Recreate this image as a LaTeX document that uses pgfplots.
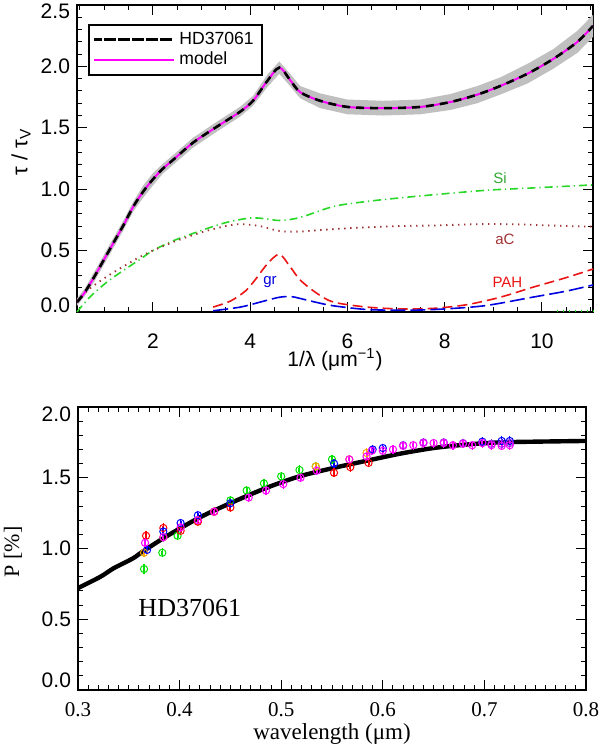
\documentclass[border=0pt]{standalone}
\usepackage{fontspec}
\setmainfont{Liberation Sans}
\newfontfamily\serif{Liberation Serif}
\usepackage{pgfplots}
\usepackage{pgfplotstable}
\pgfplotsset{compat=1.18}
\definecolor{siGreen}{RGB}{40,215,40}
\definecolor{siLab}{RGB}{50,165,50}
\definecolor{acBrown}{RGB}{160,50,50}
\definecolor{pahRed}{RGB}{235,20,20}
\definecolor{grBlue}{RGB}{0,0,225}
\definecolor{bandGray}{RGB}{192,192,192}
\definecolor{ptGreen}{RGB}{0,225,0}
\definecolor{ptRed}{RGB}{255,0,0}
\definecolor{ptBlue}{RGB}{0,0,255}
\definecolor{ptMag}{RGB}{255,0,255}
\definecolor{ptOrange}{RGB}{255,165,0}
\definecolor{ptPurple}{RGB}{150,40,240}

\pgfplotstableread{
x y
0.44 0.08
0.60 0.16
0.80 0.29
1.00 0.43
1.20 0.57
1.40 0.71
1.60 0.86
1.80 0.98
2.00 1.08
2.20 1.165
2.42 1.24
2.83 1.38
3.32 1.51
3.79 1.63
4.06 1.72
4.35 1.88
4.60 1.99
4.82 1.89
5.03 1.79
5.44 1.72
6.00 1.67
6.74 1.66
7.50 1.67
8.12 1.71
8.67 1.77
9.14 1.84
9.70 1.94
10.23 2.06
10.73 2.20
11.05 2.33
}\maincurve

% uncertainty band: along the upper edge, then back along the lower edge
\pgfplotstableread{
x y
0.44 0.11
0.60 0.19
0.80 0.33
1.00 0.47
1.20 0.61
1.40 0.75
1.60 0.90
1.80 1.03
2.00 1.13
2.20 1.205
2.42 1.28
2.83 1.42
3.32 1.55
3.79 1.67
4.06 1.76
4.35 1.93
4.60 2.04
4.82 1.94
5.03 1.84
5.44 1.78
6.00 1.73
6.74 1.72
7.50 1.73
8.12 1.775
8.67 1.84
9.14 1.91
9.70 2.02
10.23 2.14
10.73 2.29
11.05 2.42
11.05 2.24
10.73 2.11
10.23 1.98
9.70 1.86
9.14 1.77
8.67 1.70
8.12 1.645
7.50 1.61
6.74 1.60
6.00 1.61
5.44 1.66
5.03 1.74
4.82 1.84
4.60 1.94
4.35 1.83
4.06 1.68
3.79 1.59
3.32 1.47
2.83 1.34
2.42 1.20
2.20 1.125
2.00 1.03
1.80 0.93
1.60 0.82
1.40 0.67
1.20 0.53
1.00 0.39
0.80 0.25
0.60 0.13
0.44 0.05
}\band

\pgfplotstableread{
x y
0.44 0.00
0.70 0.12
1.06 0.245
1.40 0.34
1.74 0.43
2.00 0.50
2.42 0.58
2.97 0.66
3.52 0.73
4.00 0.765
4.30 0.76
4.62 0.745
5.03 0.77
5.72 0.86
6.40 0.90
7.10 0.93
7.78 0.955
8.50 0.98
9.00 0.995
9.80 1.01
11.05 1.035
}\sicurve

\pgfplotstableread{
x y
0.44 0.09
0.70 0.19
1.06 0.29
1.39 0.37
1.74 0.45
2.00 0.50
2.42 0.57
2.97 0.645
3.50 0.70
3.80 0.715
4.20 0.70
4.60 0.66
5.03 0.655
5.72 0.675
6.40 0.69
7.10 0.70
7.80 0.705
8.67 0.715
9.30 0.715
9.80 0.71
10.50 0.70
11.05 0.695
}\accurve

\pgfplotstableread{
x y
3.24 0.04
3.60 0.09
3.90 0.17
4.10 0.26
4.35 0.39
4.60 0.47
4.82 0.37
5.03 0.26
5.38 0.15
5.72 0.08
6.40 0.04
7.10 0.025
7.78 0.03
8.46 0.06
9.14 0.12
9.80 0.20
10.50 0.28
11.05 0.35
}\pahcurve

\pgfplotstableread{
x y
3.24 0.01
3.80 0.04
4.20 0.08
4.60 0.12
4.85 0.125
5.03 0.11
5.40 0.075
5.72 0.05
6.40 0.02
7.10 0.015
7.78 0.02
8.80 0.05
9.80 0.12
10.50 0.17
11.05 0.22
}\grcurve

\pgfplotstableread{
x y
0.300 0.72
0.322 0.80
0.335 0.86
0.354 0.93
0.364 0.98
0.388 1.09
0.420 1.22
0.453 1.33
0.486 1.43
0.518 1.51
0.552 1.57
0.584 1.62
0.617 1.67
0.650 1.71
0.683 1.735
0.715 1.75
0.750 1.755
0.800 1.76
}\polmodel

\pgfplotsset{
  pts/.style={only marks, mark=o, mark size=1.8pt, line width=0.5pt, color=#1,
    error bars/y dir=both, error bars/y fixed=0.015,
    error bars/error bar style={line width=1pt, color=#1},
    error bars/error mark options={mark size=1.2pt, line width=0.6pt}},
  myaxis/.style={
    scale only axis,
    tick align=inside,
    major tick length=5pt,
    minor tick length=2.5pt,
    axis line style={line width=0.7pt},
    every tick/.style={black, line width=0.5pt},
    /pgf/number format/assume math mode=true,
    clip=false,
  }
}

\begin{document}
\begin{tikzpicture}
\path[use as bounding box] (0pt,0pt) rectangle (300pt,374.5pt);
\begin{axis}[myaxis,
  at={(38.5pt,218.5pt)}, anchor=south west,
  width=258pt, height=153.5pt,
  xmin=0.44, xmax=11.05, ymin=0, ymax=2.5,
  xtick={2,4,6,8,10},
  minor xtick={0.5,1,...,11},
  ytick={0,0.5,1,1.5,2,2.5},
  yticklabels={\raisebox{3.5pt}[\height][\depth]{0.0},0.5,1.0,1.5,2.0,\raisebox{-3.2pt}[\height][\depth]{2.5}},
  minor y tick num=4,
  ticklabel style={font=\fontsize{10.5}{12}\selectfont},
  xticklabel style={inner sep=1pt, yshift=-9.8pt},
  xlabel={1/λ (μm\textsuperscript{−1})},
  xlabel style={at={(axis description cs:0.5,-0.155)}, anchor=center, inner sep=0pt, font=\fontsize{10.5}{12}\selectfont},
  legend style={at={(axis description cs:0.0213,0.938)}, anchor=north west,
    draw=black, line width=0.8pt, font=\fontsize{8.8}{10}\selectfont,
    inner xsep=2pt, inner ysep=1.5pt, row sep=-1.5pt, cells={anchor=west}},
  legend image code/.code={\path (-5pt,0pt) -- (35pt,0pt); \draw[#1] (0pt,0pt) -- (30pt,0pt);},
]
\addlegendimage{black, line width=1.3pt, dash pattern=on 4pt off 3pt}
\addlegendentry{HD37061}
\addlegendimage{ptMag, line width=1pt}
\addlegendentry{model}

\addplot[fill=bandGray, draw=none, forget plot] table {\band} -- cycle;

\addplot[siGreen, line width=0.8pt, dash pattern=on 4pt off 2pt on 0.6pt off 2pt, smooth, forget plot] table {\sicurve};
\addplot[acBrown, line width=0.9pt, dash pattern=on 0.7pt off 2.3pt, smooth, forget plot] table {\accurve};
\addplot[pahRed, line width=0.8pt, dash pattern=on 5pt off 2.5pt, smooth, forget plot] table {\pahcurve};
\addplot[grBlue, line width=0.8pt, dash pattern=on 7.5pt off 2.5pt, smooth, forget plot] table {\grcurve};
\addplot[siGreen, line width=0.8pt, dash pattern=on 0.7pt off 2.3pt, forget plot] coordinates {(10.3,0.01) (11.05,0.01)};

\addplot[ptMag, line width=1pt, smooth, forget plot] table {\maincurve};
\addplot[black, line width=1.3pt, dash pattern=on 4pt off 3pt, smooth, forget plot] table {\maincurve};

\node[text=siLab, font=\fontsize{7.5}{9}\selectfont] at (axis cs:9.14,1.09) {Si};
\node[text=acBrown, font=\fontsize{7.5}{9}\selectfont] at (axis cs:9.24,0.59) {aC};
\node[text=pahRed, font=\fontsize{7.5}{9}\selectfont] at (axis cs:9.29,0.245) {PAH};
\node[text=grBlue, font=\fontsize{7.5}{9}\selectfont] at (axis cs:4.41,0.24) {gr};
\node[rotate=90, anchor=center, font=\fontsize{11}{12}\selectfont] at (rel axis cs:-0.1085,0.521) {τ / τ\textsubscript{V}};
\end{axis}

\begin{axis}[myaxis,
  at={(39pt,29.5pt)}, anchor=south west,
  width=254pt, height=141.5pt,
  xmin=0.3, xmax=0.8, ymin=0, ymax=2.0,
  xtick={0.3,0.4,0.5,0.6,0.7,0.8},
  minor x tick num=9,
  ytick={0,0.5,1,1.5,2},
  yticklabels={\raisebox{5pt}[\height][\depth]{0.0},0.5,1.0,1.5,\raisebox{-3.5pt}[\height][\depth]{2.0}},
  minor y tick num=4,
  xticklabel style={/pgf/number format/fixed, /pgf/number format/fixed zerofill, /pgf/number format/precision=1},
  yticklabel style={font=\fontsize{10.5}{12}\selectfont},
  xticklabel style={font=\serif\fontsize{10.5}{12}\selectfont, yshift=-2.5pt},
  xlabel={wavelength (μm)},
  xlabel style={at={(axis description cs:0.5,-0.155)}, anchor=center, font=\serif\fontsize{11.5}{13}\selectfont},
]
\addplot[black, line width=2.2pt, smooth] table {\polmodel};

\addplot[pts=ptGreen] coordinates {(0.365,0.855) (0.383,0.97) (0.398,1.09) (0.45,1.34) (0.466,1.41) (0.483,1.46) (0.5,1.51) (0.518,1.555) (0.534,1.58) (0.55,1.63)};
\addplot[pts=ptOrange] coordinates {(0.365,0.97) (0.384,1.08) (0.418,1.19) (0.434,1.26) (0.534,1.58) (0.567,1.63) (0.584,1.675)};
\addplot[pts=ptRed] coordinates {(0.367,1.09) (0.384,1.145) (0.401,1.125) (0.418,1.19) (0.434,1.26) (0.45,1.29) (0.552,1.535) (0.568,1.575) (0.586,1.605)};
\addplot[pts=ptBlue] coordinates {(0.368,0.99) (0.384,1.12) (0.401,1.18) (0.418,1.235) (0.45,1.32) (0.552,1.6) (0.59,1.70) (0.6,1.71) (0.698,1.755) (0.717,1.76) (0.725,1.76)};
\addplot[pts=ptPurple] coordinates {(0.62,1.73) (0.64,1.75) (0.66,1.75) (0.679,1.745) (0.707,1.74) (0.717,1.74) (0.725,1.745)};
\addplot[pts=ptMag] coordinates {(0.366,1.04) (0.384,1.08) (0.401,1.15) (0.418,1.2) (0.434,1.26) (0.468,1.36) (0.485,1.41) (0.502,1.455) (0.519,1.5) (0.535,1.55) (0.567,1.63) (0.584,1.65) (0.589,1.69) (0.6,1.69) (0.61,1.70) (0.62,1.725) (0.63,1.73) (0.64,1.745) (0.65,1.745) (0.66,1.745) (0.669,1.73) (0.679,1.74) (0.688,1.73) (0.698,1.745) (0.707,1.73) (0.717,1.725) (0.725,1.73)};

\node[font=\serif\fontsize{13}{15}\selectfont] at (axis cs:0.41,0.58) {HD37061};
\node[rotate=90, anchor=center, font=\serif\fontsize{11}{13}\selectfont] at (rel axis cs:-0.128,0.488) {P [\%]};
\end{axis}
\end{tikzpicture}
\end{document}
